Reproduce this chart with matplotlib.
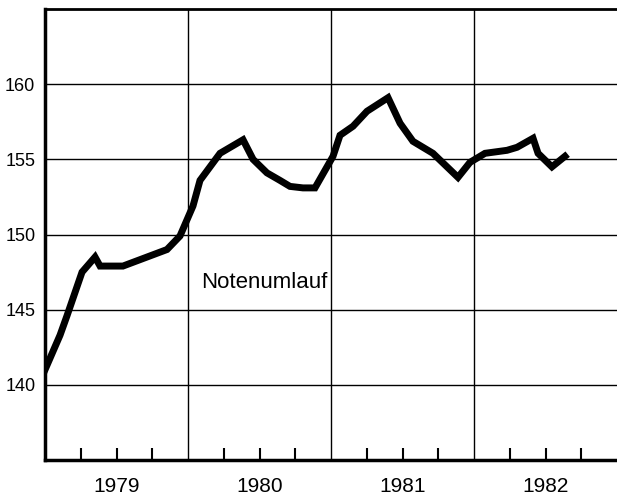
import matplotlib.pyplot as plt
import numpy as np

# Notenumlauf (decimal years, values)
dates = [1979.00, 1979.105, 1979.154, 1979.259, 1979.35, 1979.385, 1979.545,
         1979.713, 1979.853, 1979.944, 1980.035, 1980.084, 1980.224, 1980.385,
         1980.455, 1980.552, 1980.643, 1980.713, 1980.804, 1980.888, 1981.014,
         1981.063, 1981.154, 1981.252, 1981.399, 1981.483, 1981.573, 1981.713,
         1981.888, 1981.972, 1982.077, 1982.231, 1982.301, 1982.413, 1982.448,
         1982.545, 1982.636]
values = [141.0, 143.3, 144.6, 147.5, 148.5, 147.9, 147.9,
          148.5, 149.0, 149.9, 151.9, 153.6, 155.4, 156.3,
          155.0, 154.1, 153.6, 153.2, 153.1, 153.1, 155.2,
          156.6, 157.2, 158.2, 159.1, 157.4, 156.2, 155.4,
          153.8, 154.8, 155.4, 155.6, 155.8, 156.4, 155.4,
          154.5, 155.2]
years = [1979, 1980, 1981, 1982]
y_ticks = [140, 145, 150, 155, 160]

plt.rcParams['font.family'] = ['Liberation Sans', 'DejaVu Sans']

fig = plt.figure(figsize=(6.17, 4.95), dpi=100)
ax = fig.add_axes([45 / 617, 1 - 460 / 495, 1 - 45 / 617, (460 - 9) / 495])

ax.set_xlim(1979, 1983)
ax.set_ylim(135, 165)

# grid
for y in y_ticks:
    ax.axhline(y, color='black', lw=1.0, zorder=1)
for yr in years[1:]:
    ax.axvline(yr, color='black', lw=1.0, zorder=1)

ax.plot(dates, values, color='black', lw=5, solid_joinstyle='miter', zorder=3)

ax.text(1980.09, 146.8, 'Notenumlauf', fontsize=16, va='center', ha='left')

# quarter ticks on bottom axis, year label under the middle one
quarters = [yr + q / 4 for yr in years for q in (1, 2, 3)]
q_labels = [str(yr) if q == 2 else '' for yr in years for q in (1, 2, 3)]
ax.set_xticks(quarters)
ax.set_xticklabels(q_labels, fontsize=15)
ax.tick_params(axis='x', direction='in', length=9, width=1.5, pad=12)

ax.set_yticks(y_ticks)
ax.set_yticklabels([str(y) for y in y_ticks], fontsize=13)
ax.tick_params(axis='y', length=0, pad=7)

ax.spines['right'].set_visible(False)
ax.spines['left'].set_linewidth(2.5)
ax.spines['bottom'].set_linewidth(2.5)
ax.spines['top'].set_linewidth(2.0)

fig.savefig('out.png', dpi=100)
